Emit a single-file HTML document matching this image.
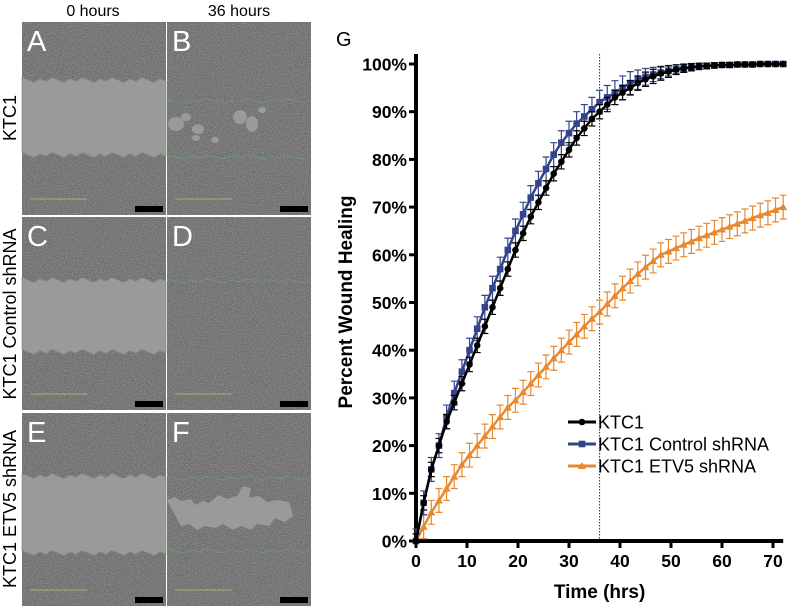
<!DOCTYPE html>
<html><head><meta charset="utf-8"><style>
body{margin:0;background:#fff;width:790px;height:608px;overflow:hidden;font-family:"Liberation Sans",sans-serif}
svg text{font-family:"Liberation Sans",sans-serif}
</style></head><body>
<svg id="fig" width="790" height="608" viewBox="0 0 790 608">
<defs>
<filter id="noise" x="0" y="0" width="100%" height="100%">
<feTurbulence type="fractalNoise" baseFrequency="0.9" numOctaves="2" seed="3"/>
<feColorMatrix type="matrix" values="0 0 0 0 0.38  0 0 0 0 0.38  0 0 0 0 0.38  0 0 0 -2.2 1.3"/>
</filter>
</defs>
<g>
<text x="93" y="16" font-size="16" text-anchor="middle">0 hours</text>
<text x="239" y="16" font-size="16" text-anchor="middle">36 hours</text>
<text transform="translate(16,118) rotate(-90)" font-size="18" text-anchor="middle">KTC1</text>
<text transform="translate(16,314) rotate(-90)" font-size="18" text-anchor="middle">KTC1 Control shRNA</text>
<text transform="translate(16,509) rotate(-90)" font-size="18" text-anchor="middle">KTC1 ETV5 shRNA</text>
<g id="panels"></g>
</g>
<g id="chart"></g>
</svg>
<script>
const hours = [];
for (let i = 0; i < 49; i++) hours.push(i * 1.5);
const ktc1 = [0,8,15,20,25,29,33,37,41,45,49,53,57,61,64.5,68,71,74,77,79.5,82,84.5,86.5,88.5,90,91.5,93,94,95,96,96.8,97.4,98,98.4,98.8,99.1,99.3,99.5,99.6,99.7,99.8,99.8,99.9,99.9,99.9,100,100,100,100];
const control = [0,8,15,20,26,31,35.5,40,44.5,49,53,57,61,65,68.5,72,75,78,81,83.5,85.5,87.5,89,90.5,92,93,94,95,96,96.7,97.3,97.8,98.2,98.6,98.9,99.2,99.4,99.5,99.6,99.7,99.8,99.8,99.9,99.9,99.9,100,100,100,100];
const etv5 = [0,3,6,8.5,11,13.5,16,18,20,22,24,26,28,29.5,31.2,33,34.8,36.5,38.3,40,41.7,43.3,45,46.6,48,49.7,51.4,53,54.5,56,57.4,58.7,60,60.7,61.4,62.1,62.8,63.5,64.1,64.7,65.3,65.9,66.5,67.1,67.7,68.3,68.8,69.4,70];
const errK = 1.5, errC = 2.5, errE = 2.5;
const yTicks = [0,10,20,30,40,50,60,70,80,90,100];
const xTicks = [0,10,20,30,40,50,60,70];
const seriesNames = ["KTC1","KTC1 Control shRNA","KTC1 ETV5 shRNA"];

const NS = "http://www.w3.org/2000/svg";
function mk(tag, attrs, parent){const e=document.createElementNS(NS,tag);for(const k in attrs)e.setAttribute(k,attrs[k]);parent.appendChild(e);return e;}
function jag(x0,x1,y,amp,step){let s='';let k=0;for(let x=x0;x<=x1+0.1;x+=step){const o=((k*7)%5-2)/2*amp;s+=`${x},${(y+o).toFixed(1)} `;k++;}return s.trim().split(' ');}

// panels
const P = document.getElementById('panels');
const cols=[22,167], rows=[22,217,413], W=144, H=193;
const letters=[["A","B"],["C","D"],["E","F"]];
for(let r=0;r<3;r++)for(let c=0;c<2;c++){
 const x=cols[c], y=rows[r];
 const g=mk('g',{},P);
 
 
 mk('rect',{x:x,y:y,width:W,height:H,fill:'#6e6e6e'},g);
 mk('rect',{x:x,y:y,width:W,height:H,filter:'url(#noise)',opacity:0.8},g);
 if(c===0){
  const wt=[80,280,476][r], wb=[155,352,553][r];
  const top=jag(x,x+W,wt,2.5,6), bot=jag(x,x+W,wb,2.5,6).reverse();
  mk('polygon',{points:top.concat(bot).join(' '),fill:'#9a9a9a',stroke:'#6a9a6a','stroke-width':0.7},g);
 } else {
  const gt=[101,0,478][r], gb=[157,281,551][r];
  if(r!==1) mk('polyline',{points:jag(x,x+W,gt,2,8).join(' '),fill:'none',stroke:'#6aa06a','stroke-width':0.8},g);
  mk('polyline',{points:jag(x,x+W,gb,2,8).join(' '),fill:'none',stroke:'#6aa06a','stroke-width':0.8},g);
  if(r===0){
   [[176,124,8,7],[186,117,5,4],[198,129,6,5],[215,140,4,3],[240,117,7,7],[252,124,6,8],[262,110,4,3],[196,138,4,3]].forEach(b=>mk('ellipse',{cx:b[0],cy:b[1],rx:b[2],ry:b[3],fill:'#9a9a9a'},g));
  }
  if(r===2){
   mk('path',{d:`M167 500 l8 -3 l6 4 l10 -2 l4 6 l8 -4 l6 2 l10 -8 l8 4 l10 -3 l6 -10 l8 2 l-2 10 l10 -2 l8 6 l10 -2 l12 2 l4 14 l-8 6 l-10 -4 l-6 8 l-12 -2 l-6 6 l-10 -4 l-8 4 l-10 -6 l-8 4 l-10 -2 l-8 4 l-8 -6 l-8 2 Z`,fill:'#9a9a9a'},g);
  }
 }
 mk('line',{x1:x+8,y1:y+H-16,x2:x+65,y2:y+H-16,stroke:'#c8c060','stroke-width':0.8},g);
 mk('rect',{x:x+W-31,y:y+H-9,width:28,height:6,fill:'#000'},g);
 const t=mk('text',{x:x+5,y:y+29,'font-size':29,fill:'#fff'},g);t.textContent=letters[r][c];
}

// chart
const C=document.getElementById('chart');
const X0=416, PX=5.1, Y0=541, PY=4.77;
const xs=v=>X0+v*PX, ys=v=>Y0-v*PY;
let t=mk('text',{x:336,y:46,'font-size':20},C);t.textContent='G';

const dl=mk('line',{x1:xs(36),y1:54,x2:xs(36),y2:Y0,stroke:'#333','stroke-width':1,'stroke-dasharray':'1.5,1.5'},C);

const ya=mk('g',{},C);
mk('line',{x1:X0,y1:54,x2:X0,y2:Y0+2,stroke:'#000','stroke-width':4},ya);
yTicks.forEach(v=>{mk('line',{x1:X0-7,y1:ys(v),x2:X0,y2:ys(v),stroke:'#000','stroke-width':3},ya);
 const l=mk('text',{x:X0-9,y:ys(v)+6.5,'font-size':17.5,'font-weight':'bold','text-anchor':'end'},ya);l.textContent=v+'%';});
const yt=mk('text',{transform:'translate(352,302) rotate(-90)','font-size':19,'font-weight':'bold','text-anchor':'middle'},C);yt.textContent='Percent Wound Healing';

const xa=mk('g',{},C);
mk('line',{x1:X0-2,y1:Y0,x2:xs(72),y2:Y0,stroke:'#000','stroke-width':4},xa);
xTicks.forEach(v=>{mk('line',{x1:xs(v),y1:Y0,x2:xs(v),y2:Y0+7,stroke:'#000','stroke-width':3},xa);
 const l=mk('text',{x:xs(v),y:Y0+26,'font-size':17.5,'font-weight':'bold','text-anchor':'middle'},xa);l.textContent=v;});
const xt=mk('text',{x:xs(36),y:598,'font-size':19,'font-weight':'bold','text-anchor':'middle'},C);xt.textContent='Time (hrs)';


function marker(g,type,x,y,col){
 if(type===0) mk('circle',{cx:x,cy:y,r:3.3,fill:col},g);
 else if(type===1) mk('rect',{x:x-3.3,y:y-3.3,width:6.6,height:6.6,fill:col},g);
 else mk('path',{d:`M${x} ${y-4} L${x+4} ${y+3} L${x-4} ${y+3}Z`,fill:col},g);
}
function series(vals,err,col,type,name){
 const g=mk('g',{},C);
 
 vals.forEach((v,i)=>{const x=xs(hours[i]);
  const e=Math.min(err,(100-v)*0.5+0.4);
  const hi=v+e, lo=Math.max(v-e,0);
  mk('path',{d:`M${x} ${ys(lo)}V${ys(hi)}M${x-3.5} ${ys(hi)}H${x+3.5}M${x-3.5} ${ys(lo)}H${x+3.5}`,stroke:col,'stroke-width':1.2,fill:'none'},g);});
 mk('polyline',{points:vals.map((v,i)=>xs(hours[i])+','+ys(v)).join(' '),fill:'none',stroke:col,'stroke-width':2.5},g);
 vals.forEach((v,i)=>marker(g,type,xs(hours[i]),ys(v),col));
}
series(etv5,errE,'#e8892f',2,'series-etv5-shrna');
series(control,errC,'#33448c',1,'series-control-shrna');
series(ktc1,errK,'#000',0,'series-ktc1');
const lg=mk('g',{},C);
const lcol=['#000','#33448c','#e8892f'];
seriesNames.forEach((n,i)=>{const y=422+i*22;
 const e=mk('g',{},lg);
 
 
 mk('line',{x1:568,y1:y,x2:596,y2:y,stroke:lcol[i],'stroke-width':3},e);
 marker(e,i,582,y,lcol[i]);
 const l=mk('text',{x:598,y:y+6.5,'font-size':18},e);l.textContent=n;});
</script>
</body></html>
